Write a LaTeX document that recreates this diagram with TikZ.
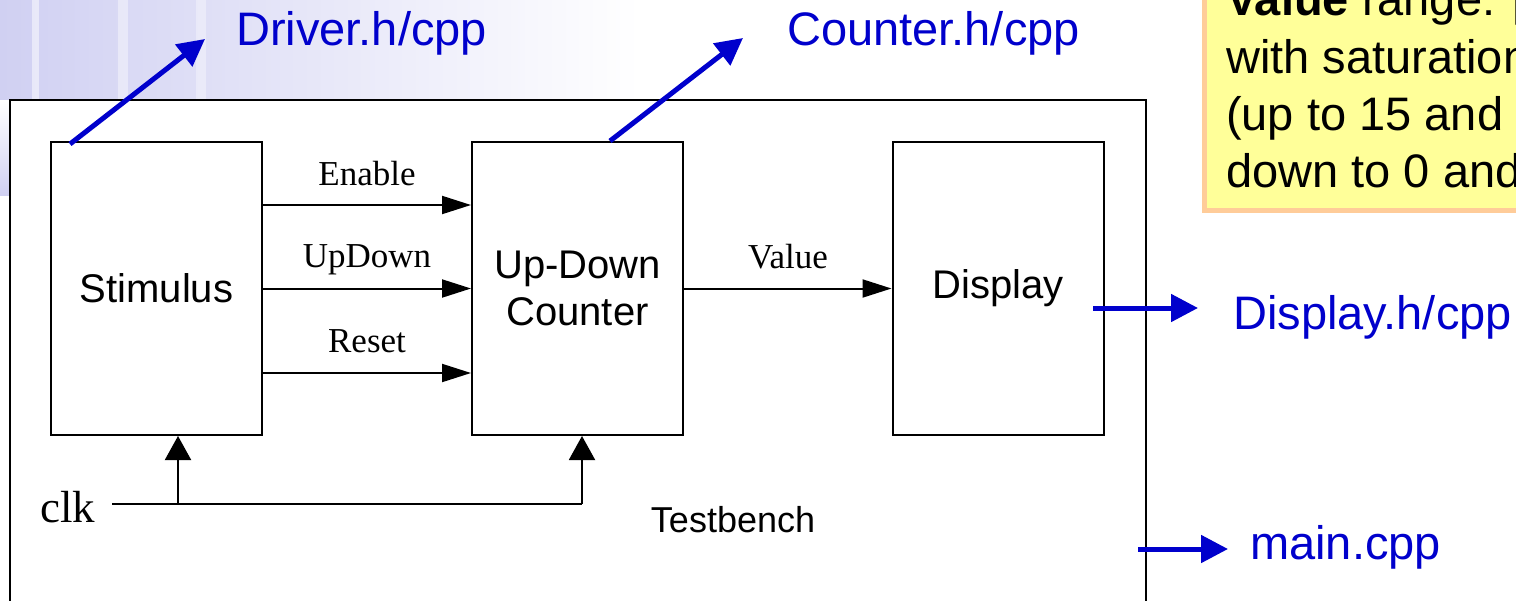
\documentclass[tikz,border=0pt]{standalone}
\usepackage{fontspec}
\setmainfont{Liberation Sans}
\newfontfamily\timesf{Liberation Serif}
\usetikzlibrary{arrows.meta}
\definecolor{fblue}{RGB}{0,0,204}
\definecolor{lav}{RGB}{208,208,242}
\definecolor{noteY}{RGB}{255,255,153}
\definecolor{noteB}{RGB}{255,204,153}
\begin{document}
\begin{tikzpicture}[x=1pt,y=-1pt,
  blk/.style={draw=black, line width=2pt, fill=white, minimum width=211pt, minimum height=293pt, inner sep=0pt, font=\fontsize{40}{47}\selectfont, align=center},
  sig/.style={line width=2pt, -{Triangle[length=29pt,width=18pt]}},
  clkarrow/.style={line width=2pt, -{Triangle[length=24pt,width=26pt]}},
  barrow/.style={draw=fblue, line width=5pt, -{Triangle[length=27pt,width=27pt]}},
  siglabel/.style={font=\timesf\fontsize{35}{40}\selectfont, anchor=base, inner sep=0pt},
  file/.style={text=fblue, font=\fontsize{47}{55}\selectfont, anchor=base west, inner sep=0pt},
  notetext/.style={text=black, font=\fontsize{47}{55}\selectfont, anchor=base west, inner sep=0pt},
]
\useasboundingbox (0,0) rectangle (1516,600);
\clip (0,0) rectangle (1516,600);
% slide background
\fill[left color=lav, right color=white] (0,0) rectangle (640,100);
\fill[bottom color=lav, top color=white] (0,100) rectangle (10,195);
\fill[white, opacity=0.5] (32,0) rectangle (39,100);
\fill[white, opacity=0.4] (118,0) rectangle (128,100);
\fill[white, opacity=0.35] (196,0) rectangle (206,100);
% note
\draw[draw=noteB, fill=noteY, line width=5pt] (1204.5,-10) rectangle (1540,210.5);
\node[notetext] (n1) at (1226,15) {\textbf{Value} range: [};
\node[notetext] (n2) at (1226,73) {with saturation};
\node[notetext] (n3) at (1226,130) {(up to 15 and};
\node[notetext] (n4) at (1226,187) {down to 0 and};
% testbench
\node[draw=black, line width=2pt, fill=white, minimum width=1136pt, minimum height=510pt, inner sep=0pt] (tb) at (578,355) {};
\node[font=\fontsize{36}{42}\selectfont, anchor=base, inner sep=0pt] (tbl) at (733,532) {Testbench};
% blocks
\node[blk] (stim) at (156.5,288.5) {Stimulus};
\node[blk] (cnt) at (577.5,288.5) {Up-Down\\Counter};
\node[blk] (disp) at (998,288.5) {Display};
% signals
\draw[sig] ([yshift=83.5pt]stim.east) -- ([yshift=83.5pt]cnt.west);
\draw[sig] (stim.east) -- (cnt.west);
\draw[sig] ([yshift=-84.5pt]stim.east) -- ([yshift=-84.5pt]cnt.west);
\draw[sig] (cnt.east) -- (disp.west);
\node[siglabel] (len) at (367,185) {Enable};
\node[siglabel] (lud) at (367,267) {UpDown};
\node[siglabel] (lrs) at (367,352) {Reset};
\node[siglabel] (lval) at (788,268) {Value};
% clock
\node[font=\timesf\fontsize{45}{50}\selectfont, anchor=base west, inner sep=0pt] (clk) at (40,522) {clk};
\coordinate (clkL) at (112,504);
\coordinate (c1) at (178,504);
\coordinate (c2) at (582,504);
\draw[line width=2pt] (clkL) -- (c2);
\draw[clkarrow] (c1) -- (c1 |- stim.south);
\draw[clkarrow] (c2) -- (c2 |- cnt.south);
% file pointers
\coordinate (d0) at (70,144); \coordinate (d1) at (205,39);
\coordinate (k0) at (610,141); \coordinate (k1) at (743,38);
\coordinate (p0) at (1093,308); \coordinate (p1) at (1198,308);
\coordinate (m0) at (1138,549); \coordinate (m1) at (1228,549);
\draw[barrow] (d0) -- (d1);
\draw[barrow] (k0) -- (k1);
\draw[barrow] (p0) -- (p1);
\draw[barrow] (m0) -- (m1);
\node[file] (fdrv) at (236,45) {Driver.h/cpp};
\node[file] (fcnt) at (787,45) {Counter.h/cpp};
\node[file] (fdisp) at (1233,329) {Display.h/cpp};
\node[file] (fmain) at (1250,559) {main.cpp};
\end{tikzpicture}
\end{document}
